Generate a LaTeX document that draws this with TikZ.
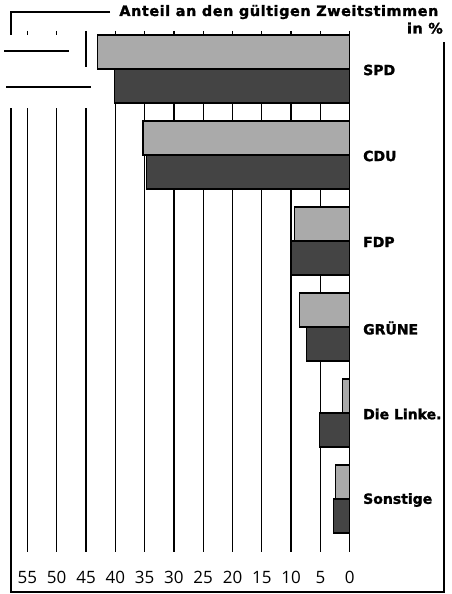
\documentclass[tikz,border=0pt]{standalone}
\usepackage{fontspec}
\setsansfont{Open Sans}
\newfontfamily\titlefont{DejaVu Sans Bold}[LetterSpace=4, FakeBold=1.5]
\newfontfamily\partyfont{DejaVu Sans Bold}[FakeBold=1.5]
\usepackage{tikz}
\definecolor{col1}{RGB}{170,170,170}
\definecolor{col2}{RGB}{68,68,68}
\tikzstyle{lightbar}=[draw, fill=col1, line width=1.4pt]
\tikzstyle{darkbar}=[draw, fill=col2, line width=1.4pt]
\tikzstyle{gline}=[line width=1.3pt]
\tikzstyle{frame}=[line width=2pt]
\tikzstyle{party}=[anchor=west, inner sep=0pt, font=\partyfont\fontsize{14}{16}\selectfont]
\tikzstyle{head}=[anchor=base east, inner sep=0pt, font=\titlefont\fontsize{14.4}{16}\selectfont]
\tikzstyle{num}=[anchor=base, inner sep=0pt, font=\sffamily\fontsize{17}{19}\selectfont]

\begin{document}
\begin{tikzpicture}[x=1pt,y=-1pt]
    \useasboundingbox (0,0) rectangle (451,594);
    % gridlines
    \foreach \v in {0,5,...,40}
        \draw[gline] (349.7-5.86*\v,31) -- (349.7-5.86*\v,552);
    \draw[gline] (86,31) -- (86,67) (86,108) -- (86,552);
    \draw[gline] (56.4,31) -- (56.4,35) (56.4,108) -- (56.4,552);
    \draw[gline] (27.4,31) -- (27.4,35) (27.4,108) -- (27.4,552);
    % frame
    \draw[frame] (110,12) -- (11,12) -- (11,35);
    \draw[frame] (11,108) -- (11,592) -- (443.5,592) -- (443.5,42);
    \draw[frame] (4,50.7) -- (69,50.7);
    \draw[frame] (6,86.7) -- (91,86.7);
    % bars
    \begin{scope}[xshift=349.7pt, x=-5.86pt]
        \draw[lightbar] (0,35) rectangle (43.0,69);
        \draw[darkbar] (0,69) rectangle (40.1,103);
        \draw[lightbar] (0,121) rectangle (35.3,155);
        \draw[darkbar] (0,155) rectangle (34.7,189);
        \draw[lightbar] (0,207) rectangle (9.4,241);
        \draw[darkbar] (0,241) rectangle (9.9,275);
        \draw[lightbar] (0,293) rectangle (8.6,327);
        \draw[darkbar] (0,327) rectangle (7.4,361);
        \draw[lightbar] (0,379) rectangle (1.2,413);
        \draw[darkbar] (0,413) rectangle (5.2,447);
        \draw[lightbar] (0,465) rectangle (2.4,499);
        \draw[darkbar] (0,499) rectangle (2.8,533);
    \end{scope}
    % labels
    \node[party] (spd) at (363,70) {SPD};
    \node[party] (cdu) at (363,156) {CDU};
    \node[party] (fdp) at (363,242) {FDP};
    \node[party] (gruene) at (363,328) {GRÜNE};
    \node[party] (linke) at (363,414) {Die Linke.};
    \node[party] (sonst) at (363,500) {Sonstige};
    \node[head] (title) at (438.5,16) {Anteil an den gültigen Zweitstimmen};
    \node[head] (unit) at (443,33.5) {in \%};
    \foreach \v in {0,5,...,55}
        \node[num] (n\v) at (349.7-5.86*\v,583) {\v};
\end{tikzpicture}
\end{document}
